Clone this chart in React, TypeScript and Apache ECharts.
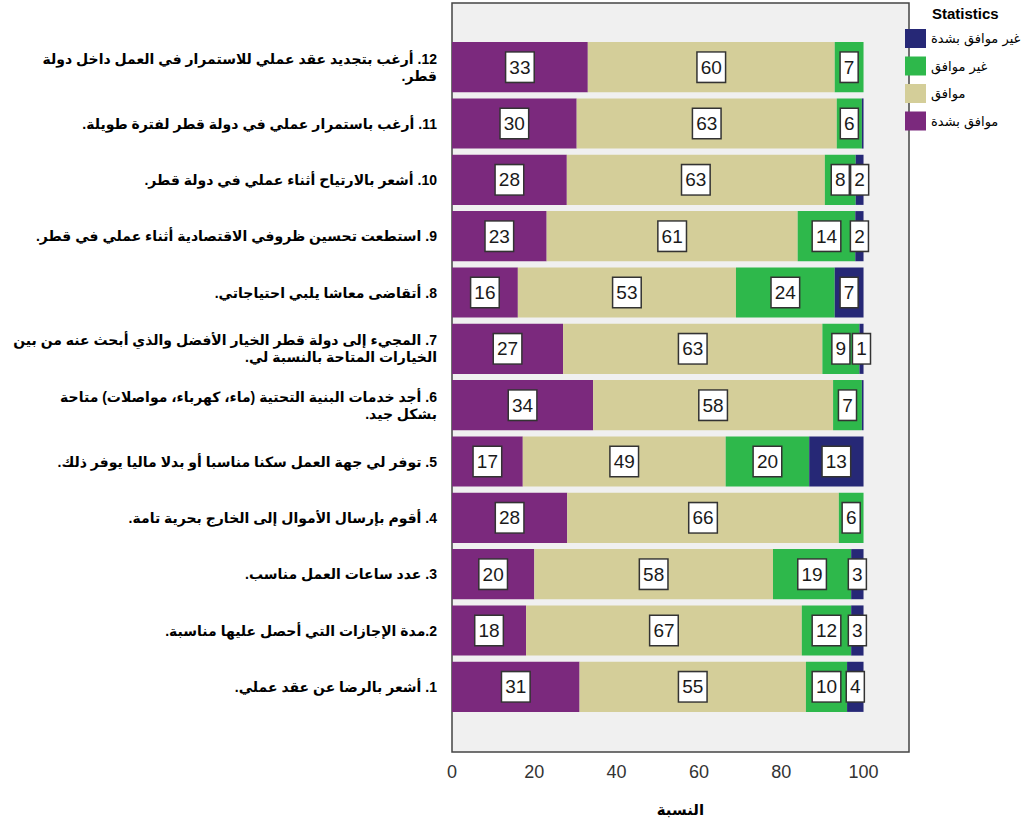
import React, { useEffect, useRef } from "react";
import * as echarts from "echarts";

const RLE = "\u202B";
const PDF = "\u202C";
const rtl = (s: string) => s.split("\n").map((l) => RLE + l + PDF).join("\n");

// Items, bottom (1) to top (12)
const categories: string[] = [
  "1. أشعر بالرضا عن عقد عملي.",
  "2.مدة الإجازات التي أحصل عليها مناسبة.",
  "3. عدد ساعات العمل مناسب.",
  "4. أقوم بإرسال الأموال إلى الخارج بحرية تامة.",
  "5. توفر لي جهة العمل سكنا مناسبا أو بدلا ماليا يوفر ذلك.",
  "6. أجد خدمات البنية التحتية (ماء، كهرباء، مواصلات) متاحة\nبشكل جيد.",
  "7. المجيء إلى دولة قطر الخيار الأفضل والذي أبحث عنه من بين\nالخيارات المتاحة بالنسبة لي.",
  "8. أتقاضى معاشا يلبي احتياجاتي.",
  "9. استطعت تحسين ظروفي الاقتصادية أثناء عملي في قطر.",
  "10. أشعر بالارتياح أثناء عملي في دولة قطر.",
  "11. أرغب باستمرار عملي في دولة قطر لفترة طويلة.",
  "12. أرغب بتجديد عقد عملي للاستمرار في العمل داخل دولة\nقطر.",
];

const stronglyAgree: number[] = [31, 18, 20, 28, 17.2, 34.3, 27, 16, 23, 27.9, 30.3, 33];
const agree: number[] = [55, 67, 58, 66, 49.3, 58.3, 63, 53, 61, 62.7, 63.2, 60];
const disagree: number[] = [10, 12, 19, 6, 20.3, 7.0, 9, 24, 14, 7.5, 6.1, 7];
const stronglyDisagree: number[] = [4, 3, 3, 0, 13.2, 0.4, 1, 7, 2, 1.9, 0.4, 0];

const seriesNames = ["موافق بشدة", "موافق", "غير موافق", "غير موافق بشدة"];
const legendOrder = ["غير موافق بشدة", "غير موافق", "موافق", "موافق بشدة"];
const colors = ["#7B297D", "#D4CE99", "#2EB84B", "#262876"];
const xTicks = { min: 0, max: 111, interval: 20 };

const FONT = "'Liberation Sans', Arial, 'DejaVu Sans', sans-serif";

export default function App() {
  const ref = useRef<HTMLDivElement>(null);
  useEffect(() => {
    if (!ref.current) return;
    const chart = echarts.init(ref.current, null, { renderer: "svg" });
    const allValues = [stronglyAgree, agree, disagree, stronglyDisagree];
    const series = allValues.map((vals, i) => ({
      name: seriesNames[i],
      type: "bar",
      stack: "total",
      barCategoryGap: "11%",
      itemStyle: { color: colors[i] },
      label: {
        show: true,
        position: "inside",
        formatter: (p: any) => String(Math.round(p.value)),
        fontFamily: FONT,
        fontSize: 19,
        color: "#1a1a1a",
        backgroundColor: "#ffffff",
        borderColor: "#333333",
        borderWidth: 1.5,
        padding: [6, 3, 4, 3],
      },
      data: vals.map((v) => ({
        value: v,
        label: { show: Math.round(v) >= 1 },
      })),
    }));

    chart.setOption({
      animation: false,
      backgroundColor: "#ffffff",
      title: {
        text: "Statistics",
        left: 927,
        top: 1,
        textStyle: { fontFamily: FONT, fontSize: 15, fontWeight: "bold", color: "#000" },
      },
      legend: {
        data: legendOrder,
        orient: "vertical",
        left: 900,
        top: 24,
        icon: "rect",
        itemWidth: 21,
        itemHeight: 19,
        itemGap: 8.5,
        textStyle: { fontFamily: "'DejaVu Sans', sans-serif", fontSize: 13, color: "#000" },
      },
      graphic: [
        {
          type: "rect",
          z: 0,
          shape: { x: 452, y: 3, width: 457, height: 749 },
          style: { fill: "#F0F0F0", stroke: "#444444", lineWidth: 1.5 },
        },
      ],
      grid: {
        left: 452,
        top: 39,
        width: 456.8,
        height: 676,
        containLabel: false,
        outerBoundsMode: "none",
      },
      xAxis: {
        type: "value",
        min: xTicks.min,
        max: xTicks.max,
        interval: xTicks.interval,
        name: "النسبة",
        nameLocation: "middle",
        nameGap: 87,
        nameTextStyle: { fontFamily: FONT, fontSize: 15, fontWeight: "bold", color: "#000" },
        axisLine: { show: false },
        axisTick: { show: false },
        splitLine: { show: false },
        axisLabel: {
          showMaxLabel: false,
          margin: 48,
          fontFamily: FONT,
          fontSize: 18,
          color: "#333",
        },
      },
      yAxis: {
        type: "category",
        data: categories.map(rtl),
        axisLine: { show: false },
        axisTick: { show: false },
        axisLabel: {
          margin: 15,
          fontFamily: FONT,
          fontSize: 14,
          fontWeight: "bold",
          color: "#000",
          lineHeight: 17,
          align: "right",
        },
      },
      series,
    });
    return () => chart.dispose();
  }, []);
  return (
    <div
      ref={ref}
      style={{ position: "fixed", left: 0, top: 0, width: 1034, height: 827 }}
    />
  );
}
